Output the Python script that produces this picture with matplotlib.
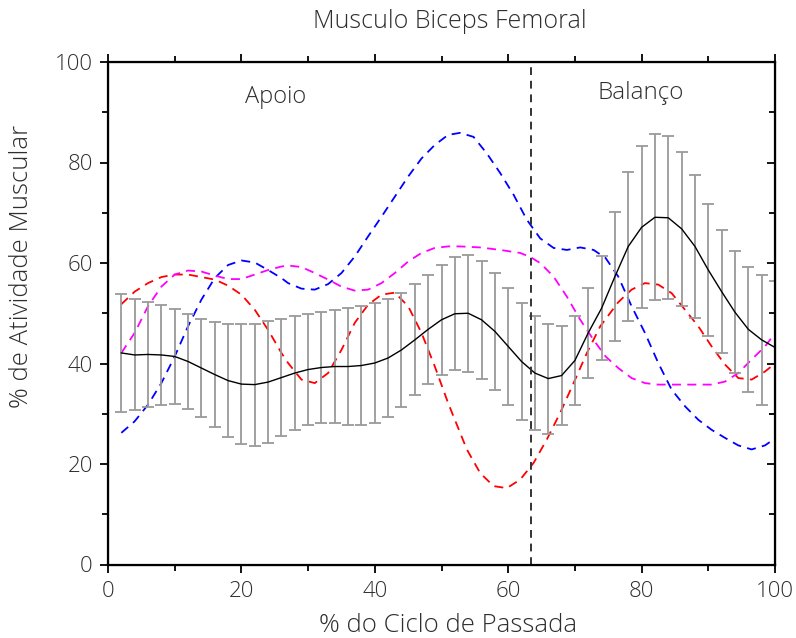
import matplotlib
matplotlib.use("Agg")
import matplotlib.pyplot as plt
import numpy as np
from matplotlib.ticker import MultipleLocator

plt.rcParams['font.family'] = ['Open Sans', 'DejaVu Sans']
plt.rcParams['font.weight'] = 'light'

# mean curve with standard deviation bars (every 2 % of the cycle)
ciclo = np.arange(2, 101, 2)
media = [42.1, 41.7, 41.8, 41.7, 41.4, 40.4, 39.1, 37.8, 36.6, 35.9,
         35.8, 36.3, 37.2, 38.1, 38.8, 39.2, 39.4, 39.4, 39.6, 40.1,
         41.1, 42.7, 44.7, 46.8, 48.7, 49.9, 50.0, 48.7, 46.4, 43.4,
         40.4, 38.1, 37.0, 37.6, 40.6, 46.1, 51.0, 57.3, 63.3, 67.1,
         69.1, 69.0, 66.8, 63.3, 58.6, 54.3, 50.2, 46.8, 44.7, 43.2]
desvio = [11.75, 11.05, 10.45, 10.0, 9.5, 9.5, 9.8, 10.45, 11.3, 11.9,
          12.15, 12.1, 11.7, 11.4, 11.1, 11.1, 11.3, 11.6, 11.9, 11.85,
          11.7, 11.3, 11.05, 10.85, 10.9, 11.25, 11.6, 11.75, 11.7, 11.6,
          11.55, 11.3, 10.95, 9.9, 8.95, 8.9, 10.3, 12.75, 14.9, 16.15,
          16.5, 16.2, 15.3, 14.2, 13.05, 12.3, 12.15, 12.5, 13.0, 13.2]

# individual subjects (dashed)
x_azul = [2, 4, 6, 8, 10, 12, 14, 16, 18, 20, 22, 24, 26, 27, 29, 31, 33, 35,
          37, 39, 41, 43, 45, 47, 49, 51, 52.8, 54.8, 56.8, 58.8, 60.8, 62.8,
          64.8, 66.8, 68.8, 70.8, 72.8, 74.6, 76.5, 78.5, 80.5, 82.5, 84.5,
          86.5, 88.5, 90.5, 92.5, 94.5, 96.5, 98.5, 100]
y_azul = [26.2, 28.5, 31.8, 36.1, 41.4, 47.4, 52.7, 57.0, 59.6, 60.5, 60.1,
          58.6, 57.0, 56.0, 54.9, 54.7, 55.8, 58.0, 61.3, 65.3, 69.2, 73.2,
          77.2, 80.8, 83.5, 85.5, 85.9, 85.1, 81.8, 77.9, 73.6, 68.6, 64.9,
          63.0, 62.6, 63.1, 62.6, 61.0, 57.3, 51.4, 46.1, 40.1, 34.8, 31.5,
          28.8, 26.8, 25.2, 23.7, 22.9, 23.7, 25.1]

x_verm = [2, 4, 6, 8, 10, 12, 14, 16, 18, 20, 22, 24, 26, 27, 29, 31, 33, 35,
          37, 39, 41, 43, 45, 47, 49, 51, 53.8, 55.8, 57.8, 59.8, 61.8, 63.8,
          65.8, 67.8, 69.8, 71.8, 73.8, 76.5, 78.5, 80.5, 82.5, 84.5, 86.5,
          88.5, 90.5, 92.5, 94.5, 96.5, 98.5, 100]
y_verm = [51.8, 54.3, 56.0, 57.2, 57.7, 57.7, 57.2, 56.7, 55.5, 53.7, 50.7,
          46.7, 42.1, 40.1, 36.8, 36.1, 38.1, 42.7, 48.1, 51.7, 53.7, 54.1,
          51.4, 46.1, 39.4, 32.1, 22.9, 18.2, 15.6, 15.2, 16.9, 20.2, 24.9,
          30.2, 36.1, 42.1, 47.4, 52.2, 54.7, 56.0, 55.7, 54.0, 50.7, 47.4,
          43.4, 39.8, 37.1, 36.8, 38.4, 40.0]

x_mag = [2, 4, 6, 8, 10, 12, 14, 16, 18, 20, 22, 24, 26, 27, 29, 31, 33, 35,
         37, 39, 41, 43, 45, 47, 49, 51, 52.8, 55.8, 58.8, 61.8, 63.3, 64.8,
         66.8, 68.8, 70.8, 72.8, 74.6, 76.5, 78.5, 80.5, 82.5, 84.5, 86.5,
         88.5, 90.5, 92.5, 94.5, 96.5, 98.5, 100]
y_mag = [42.1, 46.1, 51.4, 55.3, 57.7, 58.5, 58.3, 57.5, 56.8, 56.8, 57.7,
         58.6, 59.3, 59.5, 59.2, 58.0, 56.7, 55.3, 54.5, 54.7, 56.0, 58.0,
         60.3, 62.0, 63.0, 63.3, 63.3, 63.1, 62.6, 62.0, 61.2, 60.0, 57.3,
         53.3, 48.7, 44.7, 41.4, 39.1, 37.1, 36.1, 35.8, 35.8, 35.8, 35.8,
         35.8, 36.4, 38.1, 40.8, 43.4, 46.0]

transicao = 63.4
cor_texto = '#2e2e2e'

fig = plt.figure(figsize=(7.96, 6.38), dpi=100)
ax = fig.add_axes([108/796, 1 - 564.5/638, (775-108)/796, (564.5-62)/638])

tracos = (5, 3.5)
ax.plot(x_azul, y_azul, color='#0000ff', lw=1.3, dashes=tracos)
ax.plot(x_verm, y_verm, color='#ff0000', lw=1.3, dashes=tracos)
ax.plot(x_mag, y_mag, color='#ff00ff', lw=1.3, dashes=tracos)

ax.errorbar(ciclo, media, yerr=desvio, fmt='none', ecolor='#9a9a9a',
            elinewidth=1.3, capsize=4, capthick=1.3)
ax.plot(ciclo, media, color='black', lw=1.0)

ax.axvline(transicao, color='#333333', lw=1.4, dashes=(4, 3))

ax.set_xlim(0, 100)
ax.set_ylim(0, 100)
ax.xaxis.set_major_locator(MultipleLocator(20))
ax.xaxis.set_minor_locator(MultipleLocator(10))
ax.yaxis.set_major_locator(MultipleLocator(20))
ax.yaxis.set_minor_locator(MultipleLocator(10))

for s in ax.spines.values():
    s.set_linewidth(1.6)

ax.tick_params(which='both', direction='out', top=True, right=False,
               labelsize=16, labelcolor=cor_texto, width=1.3)
ax.tick_params(which='major', length=6)
ax.tick_params(which='minor', length=4)
ax.tick_params(axis='x', pad=6)
ax.tick_params(axis='y', pad=5)

ax2 = ax.twinx()
ax2.set_ylim(0, 100)
ax2.yaxis.set_major_locator(MultipleLocator(20))
ax2.yaxis.set_minor_locator(MultipleLocator(10))
ax2.tick_params(which='both', direction='in', labelright=False, width=1.3)
ax2.tick_params(which='major', length=6)
ax2.tick_params(which='minor', length=4)

ax.text(25.2, 93, 'Apoio', ha='center', va='center', fontsize=17, color=cor_texto)
ax.text(79.8, 93.8, 'Balanço', ha='center', va='center', fontsize=17.5, color=cor_texto)

fig.text(450/796, 1 - 22/638, 'Musculo Biceps Femoral', ha='center', va='center',
         fontsize=18, color=cor_texto)
fig.text(448/796, 1 - 626/638, '% do Ciclo de Passada', ha='center', va='center',
         fontsize=18.5, color=cor_texto)
fig.text(22/796, 1 - 266/638, '% de Atividade Muscular', ha='center', va='center',
         rotation=90, fontsize=18.5, color=cor_texto)

fig.savefig('out.png', dpi=100)
